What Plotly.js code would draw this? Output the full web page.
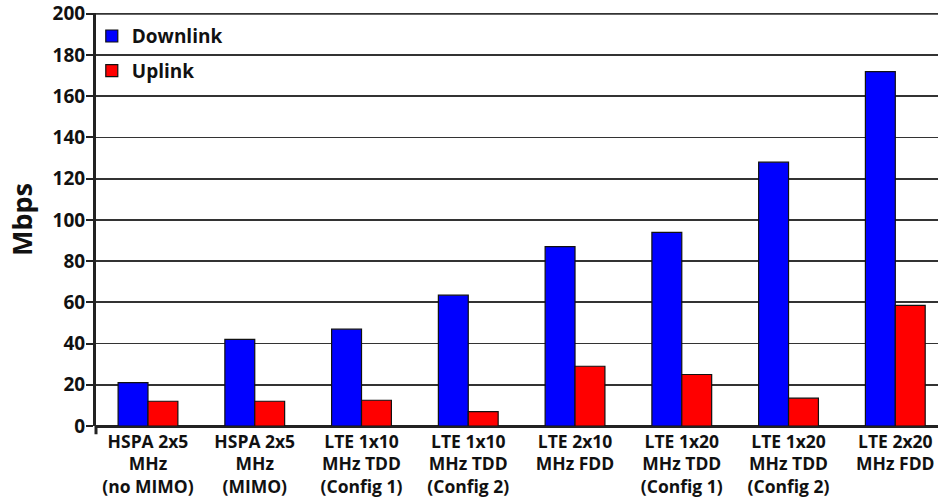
<!DOCTYPE html>
<html>
<head>
<meta charset="utf-8">
<script src="https://cdn.plot.ly/plotly-3.0.1.min.js"></script>
<style>html,body{margin:0;padding:0;background:#fff;}#chart{width:938px;height:502px;}</style>
</head>
<body>
<div id="chart"></div>
<script>
const categories = [
  "HSPA 2x5<br>MHz<br>(no MIMO)",
  "HSPA 2x5<br>MHz<br>(MIMO)",
  "LTE 1x10<br>MHz TDD<br>(Config 1)",
  "LTE 1x10<br>MHz TDD<br>(Config 2)",
  "LTE 2x10<br>MHz FDD",
  "LTE 1x20<br>MHz TDD<br>(Config 1)",
  "LTE 1x20<br>MHz TDD<br>(Config 2)",
  "LTE 2x20<br>MHz FDD"
];
const downlink = [21, 42, 47, 63.5, 87, 94, 128, 172];
const uplink = [12, 12, 12.5, 7, 29, 25, 13.5, 58.5];
const yTicks = [0, 20, 40, 60, 80, 100, 120, 140, 160, 180, 200];
const yMax = yTicks[yTicks.length - 1];

const FONT = "Open Sans, Liberation Sans, sans-serif";

const traces = [
  {type: "bar", name: "Downlink", x: categories, y: downlink, legendgroup: "d",
   marker: {color: "#0000FF", line: {color: "#111", width: 1.2}}},
  {type: "bar", name: "Uplink", x: categories, y: uplink, legendgroup: "u",
   marker: {color: "#FF0000", line: {color: "#111", width: 1.2}}}
];

const layout = {
  width: 938, height: 502,
  margin: {l: 96, r: 0, t: 13, b: 76},
  paper_bgcolor: "#fff", plot_bgcolor: "#fff",
  barmode: "group", bargap: 0.44, bargroupgap: 0,
  font: {family: FONT, color: "#111", weight: "bold"},
  showlegend: true,
  legend: {x: -0.005, y: 0.99, xanchor: "left", yanchor: "top", bgcolor: "rgba(0,0,0,0)",
           font: {family: FONT, size: 19, color: "#111", weight: "bold"},
           traceorder: "grouped", tracegroupgap: 7},
  xaxis: {type: "category", range: [-0.487, 7.40], showgrid: false, zeroline: false,
          showline: false, ticks: "", tickangle: 0, ticklabelstandoff: 3,
          tickfont: {family: FONT, size: 17.5, color: "#111", weight: "bold"}},
  yaxis: {range: [0, yMax + 0.4], tickvals: yTicks, ticktext: yTicks.map(String),
          showgrid: true, gridcolor: "#333", gridwidth: 1.8,
          zeroline: true, zerolinecolor: "#222", zerolinewidth: 3,
          showline: true, linecolor: "#222", linewidth: 3,
          ticks: "outside", ticklen: 7, tickwidth: 2, tickcolor: "#222",
          ticklabelstandoff: -3,
          tickfont: {family: FONT, size: 19, color: "#111", weight: "bold"},
          title: {text: "Mbps", font: {family: FONT, size: 27, color: "#111", weight: "bold"}, standoff: 13}},
  shapes: [
    {type: "line", xref: "paper", yref: "paper", x0: 0, x1: 0, y0: 0, y1: -0.02,
     line: {color: "#222", width: 3}},
    {type: "line", xref: "paper", yref: "y", x0: 0, x1: 1, y0: yMax, y1: yMax,
     layer: "below", line: {color: "#333", width: 1.8}}
  ]
};

Plotly.newPlot("chart", traces, layout, {staticPlot: true, displayModeBar: false});
</script>
</body>
</html>
